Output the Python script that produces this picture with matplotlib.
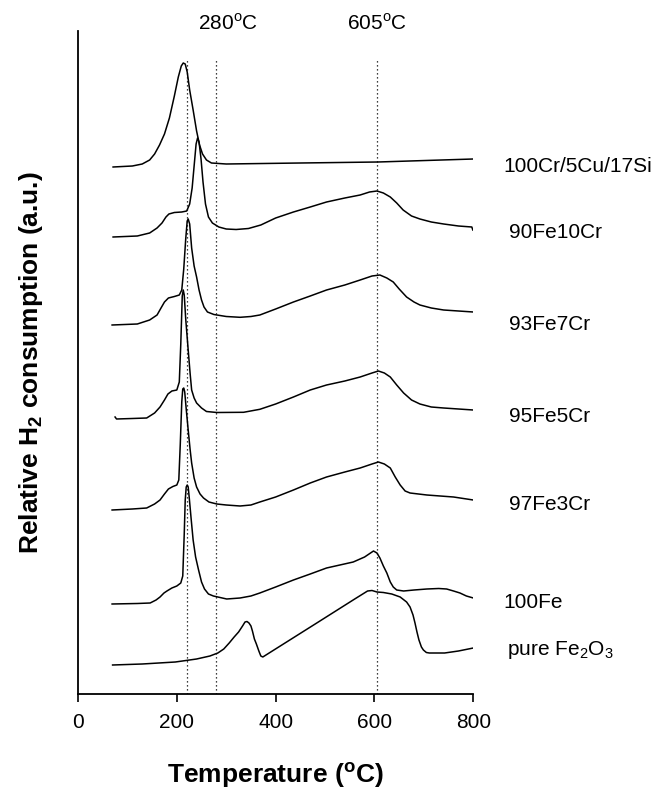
import matplotlib
matplotlib.use("Agg")
import matplotlib.pyplot as plt

plt.rcParams['font.family'] = ['Liberation Sans', 'DejaVu Sans']
plt.rcParams['mathtext.fontset'] = 'custom'
plt.rcParams['mathtext.rm'] = 'Liberation Sans'
plt.rcParams['mathtext.bf'] = 'Liberation Sans:bold'

# ---- data (temperature in °C, relative signal in a.u., stacked) ----
t_cr = [71, 110, 130, 145, 155, 165, 175, 185, 195, 203, 209, 213, 217, 221, 226, 233, 240, 246, 252, 260, 270, 300, 450, 607, 800]
y_cr = [527, 528, 530, 534, 540, 549, 560, 576, 598, 617, 628, 631, 630, 622, 604, 584, 563, 549, 540, 534, 531, 530, 531, 532, 535]

t_90 = [71, 120, 145, 160, 170, 178, 184, 195, 210, 220, 226, 231, 235, 239, 242, 245, 249, 253, 258, 264, 272, 285, 300, 320, 345, 370, 400, 436, 470, 503, 540, 571, 590, 605, 618, 632, 645, 658, 675, 692, 715, 740, 770, 797, 799]
y_90 = [457, 458, 461, 466, 471, 477, 480, 481.5, 482, 483, 490, 506, 528, 550, 556, 552, 535, 512, 490, 477, 471, 467, 465, 464.5, 465.5, 469, 476, 482, 487, 492, 496, 499, 502, 503, 501, 497, 491, 484, 478, 475, 472, 470, 468, 467, 464]

t_93 = [69, 120, 145, 160, 168, 175, 183, 195, 205, 210, 214, 218, 221, 223, 226, 230, 235, 240, 245, 250, 255, 262, 275, 300, 328, 350, 368, 400, 436, 470, 503, 540, 571, 595, 611, 625, 638, 650, 665, 680, 692, 715, 740, 800]
y_93 = [369, 370, 374, 379, 386, 392, 396, 397.5, 399, 404, 425, 455, 473, 475, 470, 446, 428, 417, 404, 394, 387, 382, 379.5, 377.5, 376.7, 377.5, 379, 385, 392, 398, 404, 409, 414, 418, 419, 416, 412, 405, 397, 392, 389, 386, 384, 382]

t_95 = [75, 78, 110, 139, 155, 166, 175, 182, 190, 200, 205, 208, 211, 213, 215, 218, 223, 227, 230, 235, 240, 250, 260, 281, 335, 368, 400, 436, 470, 503, 540, 571, 595, 608, 620, 632, 645, 659, 675, 692, 715, 740, 800]
y_95 = [277, 275, 275.5, 276, 281, 287, 294, 300, 303, 304, 312, 350, 398, 404, 399, 375, 344, 320, 304, 296, 291, 286, 282.5, 281.5, 281.7, 284.7, 290, 297, 304, 309, 313, 317, 321, 323, 321, 317, 309, 301, 294, 290, 287, 286, 284]

t_97 = [69, 110, 139, 155, 166, 175, 183, 192, 200, 204, 207, 210, 212, 214, 216, 219, 223, 227, 230, 235, 240, 247, 254, 265, 281, 300, 328, 350, 368, 400, 436, 470, 503, 540, 571, 595, 608, 620, 632, 642, 652, 662, 672, 706, 760, 800]
y_97 = [184, 185, 186, 190, 194, 200, 205, 207.5, 209, 214, 250, 292, 305, 306, 302, 285, 264, 244, 231, 216, 207, 200, 196, 192, 190, 189, 188, 189, 192, 197, 204, 211, 217, 222, 226, 230, 232, 230, 226, 217, 209, 203, 201, 199, 197, 194]

t_100 = [69, 120, 146, 158, 166, 174, 180, 190, 200, 208, 212, 215, 217, 219, 221, 223, 225, 229, 233, 238, 244, 250, 256, 264, 274, 301, 328, 350, 368, 400, 436, 470, 503, 530, 557, 580, 598, 605, 611, 618, 625, 632, 638, 645, 659, 680, 706, 730, 746, 760, 773, 786, 800]
y_100 = [90, 90.5, 91, 94, 97, 101, 103, 106, 108, 111, 118, 160, 194, 207, 209, 207, 197, 175, 154, 137, 124, 112, 105, 100, 98, 95, 96, 98, 101, 107, 114, 120, 126, 129, 132, 137, 143, 141, 136, 128, 121, 112, 107, 104, 103, 104, 105, 105.5, 105, 103, 101, 98, 96]

t_fe = [70, 130, 197, 240, 267, 283, 295, 306, 316, 325, 333, 338, 342, 346, 350, 353, 357, 361, 366, 370, 374, 480, 560, 586, 595, 605, 618, 635, 652, 665, 672, 678, 682, 686, 690, 695, 699, 705, 711, 742, 770, 800]
y_fe = [29, 30, 32, 35, 38, 41, 45, 51, 57, 62, 68, 72, 72.5, 71, 68, 63, 55, 50, 43, 38, 37, 70, 95, 103, 103.5, 102, 101.5, 100, 97, 92, 87, 79, 71, 62, 54, 47, 44, 41.5, 41, 41, 43, 46]

labels = ['100Cr/5Cu/17Si', '90Fe10Cr', '93Fe7Cr', '95Fe5Cr', '97Fe3Cr', '100Fe', 'pure Fe$_2$O$_3$']
label_t = [860, 872, 872, 872, 872, 860, 868]
label_y = [527, 461, 369, 277, 189, 91, 44]

ref_t = [220, 280, 605]
ref_text_t = [304, 606]
ref_text = ['280$^{\\mathrm{o}}$C', '605$^{\\mathrm{o}}$C']

xticks = [0, 200, 400, 600, 800]

# ---- figure ----
fig = plt.figure(figsize=(6.63, 7.95), dpi=100)
ax = fig.add_axes([78/663, 1 - 694/795, (473.3 - 78)/663, (694 - 31)/795])

series = [(t_cr, y_cr), (t_90, y_90), (t_93, y_93), (t_95, y_95), (t_97, y_97), (t_100, y_100), (t_fe, y_fe)]
for t, y in series:
    ax.plot(t, y, color='black', lw=1.1, solid_joinstyle='round')

for rt in ref_t:
    ax.vlines(rt, 0, 634, colors='black', linestyles=(0, (1, 2.2)), lw=0.9)

for txt, tt, yy in zip(labels, label_t, label_y):
    ax.text(tt, yy, txt, fontsize=15, va='center', ha='left', clip_on=False)

for txt, tt in zip(ref_text, ref_text_t):
    ax.text(tt, 671, txt, fontsize=15, va='center', ha='center', clip_on=False)

ax.set_xlim(0, 800)
ax.set_ylim(0, 663)
ax.set_xticks(xticks)
ax.set_xticklabels([str(v) for v in xticks], fontsize=15)
ax.set_yticks([])
ax.tick_params(axis='x', direction='out', length=6, width=1.2, pad=8)
for s in ['top', 'right']:
    ax.spines[s].set_visible(False)
for s in ['left', 'bottom']:
    ax.spines[s].set_linewidth(1.3)

ax.set_xlabel('Temperature ($^{\\mathbf{o}}$C)', fontsize=19, fontweight='bold', labelpad=20)
ax.set_ylabel('Relative H$_{\\mathbf{2}}$ consumption (a.u.)', fontsize=19, fontweight='bold', labelpad=24)

fig.savefig('out.png', dpi=100)
